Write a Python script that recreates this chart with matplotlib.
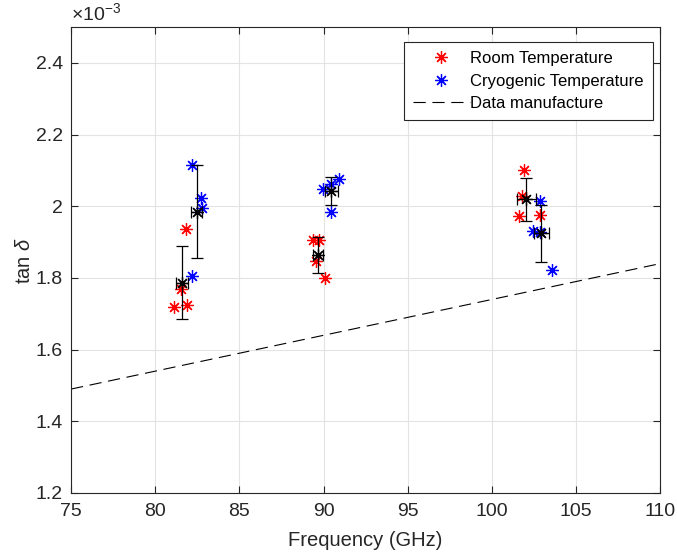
import numpy as np
import matplotlib
matplotlib.use('Agg')
import matplotlib.pyplot as plt

plt.rcParams['font.family'] = ['Liberation Sans', 'DejaVu Sans']
plt.rcParams['mathtext.fontset'] = 'custom'
plt.rcParams['mathtext.it'] = 'Liberation Sans:italic'
plt.rcParams['mathtext.rm'] = 'Liberation Sans'

# measurements, frequency in GHz and tan delta in units of 1e-3
room_freq = [81.12, 81.54, 81.87, 81.83,
             89.36, 89.76, 89.56, 90.07,
             101.94, 101.78, 101.64, 102.87]
room_tan = [1.718, 1.769, 1.724, 1.938,
            1.905, 1.906, 1.846, 1.800,
            2.101, 2.030, 1.973, 1.976]
cryo_freq = [82.19, 82.70, 82.78, 82.20,
             90.94, 89.99, 90.45, 90.43,
             102.87, 102.47, 102.87, 103.56]
cryo_tan = [2.115, 2.024, 1.996, 1.806,
            2.076, 2.048, 2.062, 1.985,
            2.015, 1.931, 1.929, 1.822]
manuf_freq = [75, 110]
manuf_tan = [1.49, 1.84]


def group_stats(freq, tan, n=4):
    f = np.array(freq).reshape(-1, n)
    t = np.array(tan).reshape(-1, n)
    return f.mean(1), t.mean(1), f.std(1, ddof=1), t.std(1, ddof=1)


scale = 1e-3
star = (8, 2, 0)
dark = '#262626'

fig = plt.figure(figsize=(6.77, 5.53), dpi=100)
ax = fig.add_axes([0.105, 0.1085, 0.87, 0.8425])

ax.plot(room_freq, np.array(room_tan) * scale, linestyle='none', marker=star,
        color='red', markersize=9, markeredgewidth=0.9, label='Room Temperature')
ax.plot(cryo_freq, np.array(cryo_tan) * scale, linestyle='none', marker=star,
        color='blue', markersize=9, markeredgewidth=0.9, label='Cryogenic Temperature')
ax.plot(manuf_freq, np.array(manuf_tan) * scale, '--', color='black',
        linewidth=0.8, dashes=(11, 6), label='Data manufacture')

for freq, tan in [(room_freq, room_tan), (cryo_freq, cryo_tan)]:
    mf, mt, sf, st = group_stats(freq, tan)
    ax.errorbar(mf, mt * scale, xerr=sf, yerr=st * scale, fmt='none',
                ecolor='black', elinewidth=0.9, capsize=4, capthick=0.9)
    ax.plot(mf, mt * scale, linestyle='none', marker=star, color='black',
            markersize=9, markeredgewidth=0.9)

ax.set_xlim(75, 110)
ax.set_ylim(1.2e-3, 2.5e-3)
ax.set_xticks(np.arange(75, 111, 5))
yt = np.arange(1.2, 2.41, 0.2)
ax.set_yticks(yt * scale)
ax.set_yticklabels(['%.1f' % v if abs(v - 2) > 1e-6 else '2' for v in yt])
ax.text(0, 1.006, r'$\times$10$^{\mathregular{-3}}$', transform=ax.transAxes,
        fontsize=14, va='bottom', ha='left', color=dark)

ax.grid(True, color='#e3e3e3', linewidth=0.8)
ax.set_axisbelow(True)
ax.tick_params(direction='in', length=5, labelsize=14, top=True, right=True,
               color=dark, labelcolor=dark)
ax.tick_params(axis='x', pad=7)
ax.tick_params(axis='y', pad=6)
for s in ax.spines.values():
    s.set_color(dark)
    s.set_linewidth(0.8)

ax.set_xlabel('Frequency (GHz)', fontsize=14.5, color=dark, labelpad=8)
ax.set_ylabel(r'tan $\delta$', fontsize=14.5, color=dark, labelpad=1)

leg = ax.legend(loc='upper right', bbox_to_anchor=(0.988, 0.968), fontsize=12,
                fancybox=False, framealpha=1, edgecolor=dark,
                handlelength=3.4, handletextpad=0.05, borderpad=0.55,
                labelspacing=0.45, borderaxespad=0)
leg.get_frame().set_linewidth(0.8)

fig.savefig('out.png', dpi=100)
